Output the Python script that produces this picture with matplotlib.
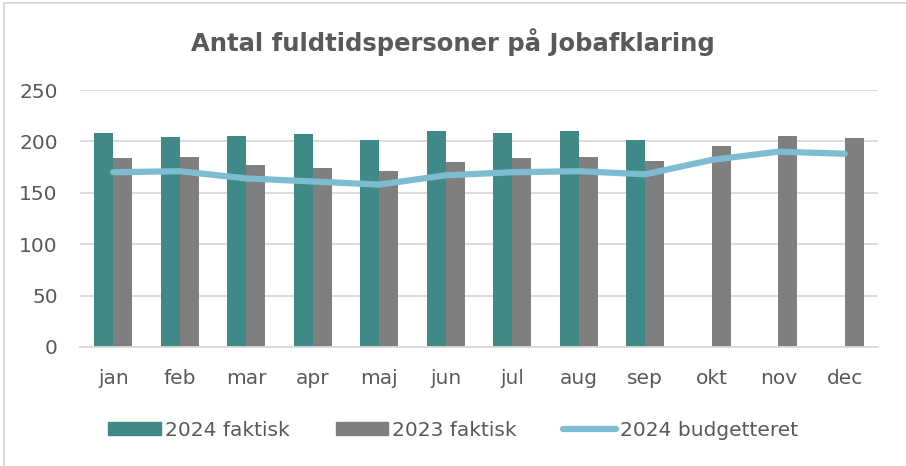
import matplotlib
matplotlib.use("Agg")
import matplotlib.pyplot as plt
import numpy as np
from matplotlib.patches import Rectangle
from matplotlib.lines import Line2D

TEAL = "#3f8a86"
GREY = "#7f7f7f"
LINE = "#7dbcd1"
TEXT = "#595959"
GRID = "#d9d9d9"

months = ["jan", "feb", "mar", "apr", "maj", "jun", "jul", "aug", "sep", "okt", "nov", "dec"]
actual_2024 = [208, 204, 205, 207, 201, 210, 208, 210, 201, np.nan, np.nan, np.nan]
actual_2023 = [184, 185, 177, 174, 171, 180, 184, 185, 181, 196, 205, 203]
budget_2024 = [170, 171, 164, 161, 158, 167, 170, 171, 168, 182, 190, 188]
yticks = [0, 50, 100, 150, 200, 250]

plt.rcParams["font.family"] = "DejaVu Sans"

fig = plt.figure(figsize=(9.06, 4.66), dpi=100)
ax = fig.add_axes([80 / 906, 1 - 347 / 466, 798 / 906, 257 / 466])

x = np.arange(len(months))
w = 0.285
ax.bar(x - w / 2, actual_2024, width=w, color=TEAL, zorder=2)
ax.bar(x + w / 2, actual_2023, width=w, color=GREY, zorder=2)
ax.plot(x, budget_2024, color=LINE, lw=4.5, solid_capstyle="round", zorder=3)

ax.set_xlim(-0.5, len(months) - 0.5)
ax.set_ylim(0, 250)
ax.set_yticks(yticks)
ax.set_xticks(x, months)
ax.grid(True, axis="y", color=GRID, lw=1.3, zorder=0)
ax.tick_params(length=0, colors=TEXT, labelsize=14.5)
ax.tick_params(axis="x", pad=16)
ax.tick_params(axis="y", pad=16)
for s in ("top", "right", "left"):
    ax.spines[s].set_visible(False)
ax.spines["bottom"].set_color(GRID)
ax.spines["bottom"].set_linewidth(1.3)

fig.text(0.5, 1 - 42 / 466, "Antal fuldtidspersoner på Jobafklaring", ha="center", va="center",
         fontsize=17.5, fontweight="bold", color=TEXT)

handles = [
    Rectangle((0, 0), 1, 1, color=TEAL),
    Rectangle((0, 0), 1, 1, color=GREY),
    Line2D([0], [0], color=LINE, lw=4.5, solid_capstyle="round"),
]
leg = fig.legend(handles, ["2024 faktisk", "2023 faktisk", "2024 budgetteret"], loc="center",
                 bbox_to_anchor=(0.5, 1 - 430 / 466), ncol=3, frameon=False, fontsize=14.5,
                 handlelength=2.6, handleheight=0.6, handletextpad=0.2, columnspacing=2.3)
for t in leg.get_texts():
    t.set_color(TEXT)

# outer frame: only the top and left edges show in the reference
bx, by = 4 / 906, 1 - 3 / 466
fig.add_artist(Line2D([bx, 1], [by, by], color=GRID, lw=1.5, transform=fig.transFigure))
fig.add_artist(Line2D([bx, bx], [0, by], color=GRID, lw=1.5, transform=fig.transFigure))

fig.savefig("out.png", dpi=100)
